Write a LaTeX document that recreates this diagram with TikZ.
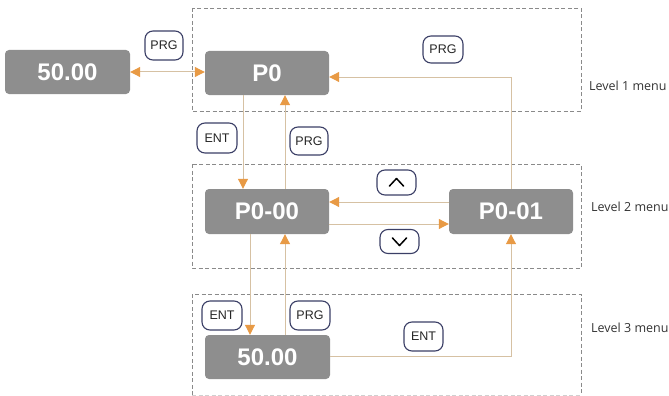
\documentclass[tikz,border=0pt]{standalone}
\usepackage{fontspec}
\setmainfont{Liberation Sans}
\newfontfamily\lvlfont{Open Sans}
\usetikzlibrary{arrows.meta}
\definecolor{boxgray}{HTML}{8E8E8E}
\definecolor{linetan}{HTML}{D6C1A3}
\definecolor{tiporange}{HTML}{E89A45}
\definecolor{btnnavy}{HTML}{3B3F66}
\definecolor{dashgray}{HTML}{8A8A8A}
\tikzset{
  otip/.tip={Triangle[length=10pt,width=10pt,color=tiporange,fill=tiporange]},
  dispbox/.style={draw=none, fill=boxgray, rounded corners=4pt, inner sep=0pt,
    text=white, font=\fontsize{24}{24}\selectfont\bfseries},
  btn/.style={draw=btnnavy, line width=1.1pt, rounded corners=8pt, fill=white,
    inner sep=0pt, text=black!85, font=\fontsize{12.5}{12.5}\selectfont},
  conn/.style={draw=linetan, line width=1pt, -otip},
  dconn/.style={draw=linetan, line width=1pt, otip-otip},
  levelbox/.style={draw=dashgray, line width=0.8pt, dash pattern=on 4pt off 2.5pt},
  lvl/.style={anchor=west, inner sep=0pt, text=black!80, font=\lvlfont\fontsize{12.5}{12.5}\selectfont},
  chev/.style={draw=black, line width=1.5pt, line cap=round, line join=round}
}
\begin{document}
\begin{tikzpicture}[x=1pt,y=-1pt]
\useasboundingbox (0,0) rectangle (669,396);
% level frames
\draw[levelbox] (192,8) rectangle (581,111);
\draw[levelbox] (192,164) rectangle (581,268);
\draw[levelbox] (192,395) -- (192,294) -- (581,294) -- (581,395);
\draw[levelbox, draw=dashgray!40] (192,395) -- (581,395);
% display boxes
\node[dispbox, minimum width=125pt, minimum height=44pt] (home) at (67.5,72) {50.00};
\node[dispbox, minimum width=124pt, minimum height=44pt] (p0) at (267,73) {P0};
\node[dispbox, minimum width=124pt, minimum height=45pt] (p000) at (267,211.5) {P0-00};
\node[dispbox, minimum width=124pt, minimum height=45pt] (p001) at (511,211.5) {P0-01};
\node[dispbox, minimum width=125pt, minimum height=44pt] (val) at (267.5,357) {50.00};
% buttons
\node[btn, minimum width=38pt, minimum height=29pt] (prgA) at (164,45.5) {PRG};
\node[btn, minimum width=40pt, minimum height=27pt] (prgB) at (443,49.5) {PRG};
\node[btn, minimum width=40pt, minimum height=30pt] (entA) at (217,138) {ENT};
\node[btn, minimum width=38pt, minimum height=28pt] (prgC) at (309,141) {PRG};
\node[btn, minimum width=39pt, minimum height=25pt] (up) at (396.5,182.5) {};
\node[btn, minimum width=39pt, minimum height=24pt] (down) at (399.5,241.5) {};
\node[btn, minimum width=40pt, minimum height=29pt] (entB) at (222,315.5) {ENT};
\node[btn, minimum width=40pt, minimum height=29pt] (prgD) at (310,315.5) {PRG};
\node[btn, minimum width=39pt, minimum height=29pt] (entC) at (423.5,336.5) {ENT};
% chevrons
\draw[chev] ([xshift=-7pt,yshift=-3.5pt]up.center) -- ([yshift=4pt]up.center) -- ([xshift=7pt,yshift=-3.5pt]up.center);
\draw[chev] ([xshift=-7pt,yshift=3.5pt]down.center) -- ([yshift=-4pt]down.center) -- ([xshift=7pt,yshift=3.5pt]down.center);
% connectors
\draw[dconn] (home.east) -- ([yshift=1pt]p0.west);
\draw[conn] (p001.north) |- ([yshift=-4pt]p0.east);
\draw[conn] ([xshift=-24pt]p0.south) -- ([xshift=-24pt]p000.north);
\draw[conn] ([xshift=18pt]p000.north) -- ([xshift=18pt]p0.south);
\draw[conn] ([yshift=9.5pt]p001.west) -- ([yshift=9.5pt]p000.east);
\draw[conn] ([yshift=-12.5pt]p000.east) -- ([yshift=-12.5pt]p001.west);
\draw[conn] ([xshift=-17pt]p000.south) -- ([xshift=-17.5pt]val.north);
\draw[conn] ([xshift=17.5pt]val.north) -- ([xshift=18pt]p000.south);
\draw[conn] ([yshift=1pt]val.east) -| (p001.south);
% level labels
\node[lvl] (l1) at (589,86) {Level 1 menu};
\node[lvl] (l2) at (591,207) {Level 2 menu};
\node[lvl] (l3) at (591,328) {Level 3 menu};
\end{tikzpicture}
\end{document}
